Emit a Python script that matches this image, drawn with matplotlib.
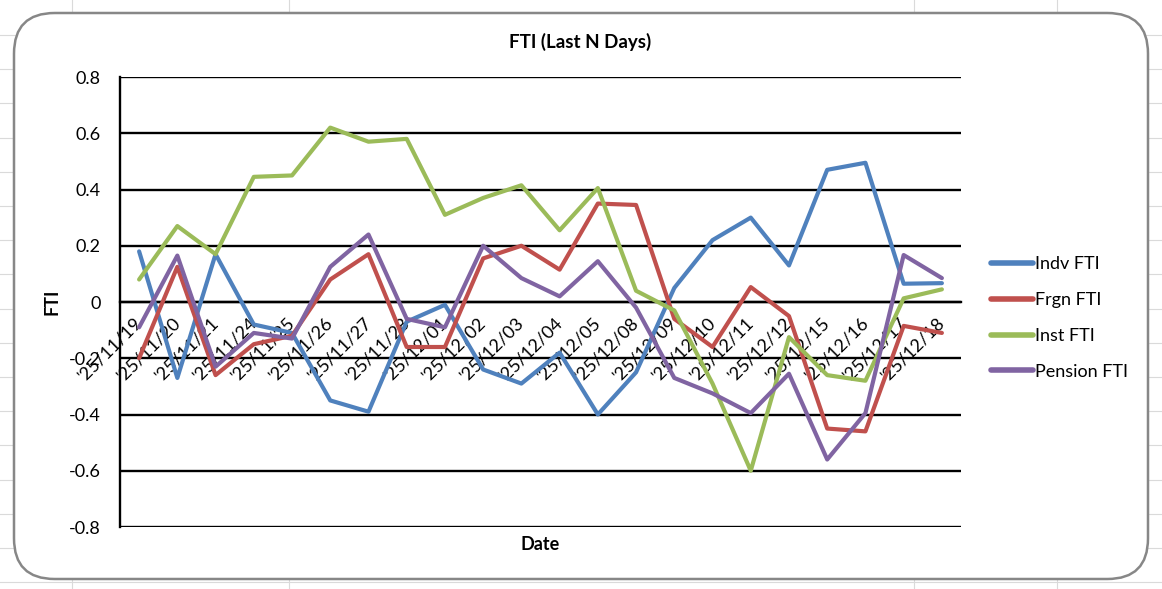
import numpy as np
import matplotlib
matplotlib.use("Agg")
from matplotlib import pyplot as plt
from matplotlib.patches import FancyBboxPatch
from matplotlib.lines import Line2D
from matplotlib.transforms import ScaledTranslation

dates = ["'25/11/19", "'25/11/20", "'25/11/21", "'25/11/24", "'25/11/25",
         "'25/11/26", "'25/11/27", "'25/11/28", "'25/12/01", "'25/12/02",
         "'25/12/03", "'25/12/04", "'25/12/05", "'25/12/08", "'25/12/09",
         "'25/12/10", "'25/12/11", "'25/12/12", "'25/12/15", "'25/12/16",
         "'25/12/17", "'25/12/18"]

indv_fti = [0.18, -0.27, 0.17, -0.08, -0.11, -0.35, -0.39, -0.07, -0.01, -0.24,
            -0.29, -0.18, -0.40, -0.25, 0.05, 0.22, 0.30, 0.13, 0.47, 0.495,
            0.065, 0.067]
frgn_fti = [-0.20, 0.125, -0.26, -0.15, -0.12, 0.08, 0.17, -0.16, -0.16, 0.155,
            0.20, 0.115, 0.35, 0.345, -0.06, -0.16, 0.053, -0.05, -0.45, -0.46,
            -0.085, -0.11]
inst_fti = [0.08, 0.27, 0.17, 0.445, 0.45, 0.62, 0.57, 0.58, 0.31, 0.37,
            0.415, 0.255, 0.405, 0.04, -0.03, -0.29, -0.60, -0.125, -0.26, -0.28,
            0.013, 0.045]
pension_fti = [-0.09, 0.165, -0.23, -0.11, -0.13, 0.125, 0.24, -0.06, -0.09, 0.20,
               0.085, 0.02, 0.145, -0.02, -0.27, -0.325, -0.395, -0.255, -0.56, -0.395,
               0.167, 0.085]

series = [("Indv FTI", indv_fti, "#4F81BD"),
          ("Frgn FTI", frgn_fti, "#C0504D"),
          ("Inst FTI", inst_fti, "#9BBB59"),
          ("Pension FTI", pension_fti, "#8064A2")]

FONT = "Lato"
W, H = 1162, 589

fig = plt.figure(figsize=(W / 100, H / 100), dpi=100)

# spreadsheet cells behind the chart
for y in np.arange(35, H, 34.2):
    fig.add_artist(Line2D([0, 1], [1 - y / H] * 2, color="#dadada", lw=0.8, zorder=0))
for x in [72, 289, 914, 1057]:
    fig.add_artist(Line2D([x / W] * 2, [0, 1], color="#dadada", lw=0.8, zorder=0))

# chart frame
frame = FancyBboxPatch((14 / W, 1 - 579 / H), (1148 - 14) / W, (579 - 13) / H,
                       boxstyle="round,pad=0,rounding_size=0.035",
                       transform=fig.transFigure, facecolor="white",
                       edgecolor="#878787", lw=1.8, zorder=1,
                       mutation_aspect=W / H)
fig.add_artist(frame)

ax = fig.add_axes([120 / W, 1 - 527 / H, (961 - 120) / W, (527 - 77) / H], zorder=2)
ax.patch.set_alpha(0)

x = np.arange(len(dates))
for name, vals, color in series:
    ax.plot(x, vals, color=color, lw=3.0, label=name, zorder=4,
            solid_joinstyle="round", solid_capstyle="round")

ax.set_xlim(-0.5, len(dates) - 0.5)
ax.set_ylim(-0.8, 0.8)
ax.set_yticks(np.arange(-0.8, 0.81, 0.2))
ax.set_yticklabels(["-0.8", "-0.6", "-0.4", "-0.2", "0", "0.2", "0.4", "0.6", "0.8"])
ax.yaxis.grid(True, color="black", lw=1.7)
ax.set_axisbelow(True)

for s in ["top", "right"]:
    ax.spines[s].set_visible(False)
ax.spines["left"].set_color("black")
ax.spines["left"].set_linewidth(1.7)
ax.spines["bottom"].set_position(("data", 0))
ax.spines["bottom"].set_color("black")
ax.spines["bottom"].set_linewidth(1.7)

ax.set_xticks(x)
ax.set_xticklabels(dates, rotation=45, ha="right", va="top",
                   fontsize=13, family=FONT)
ax.tick_params(axis="x", length=0, pad=9)
ax.tick_params(axis="y", length=0, pad=14, labelsize=13)
shift = ScaledTranslation(6 / 100, 0, fig.dpi_scale_trans)
for lab in ax.get_xticklabels():
    lab.set_transform(lab.get_transform() + shift)
for lab in ax.get_yticklabels():
    lab.set_family(FONT)

fig.text(580 / W, 1 - 42 / H, "FTI (Last N Days)", ha="center", va="center",
         fontsize=13.5, fontweight="bold", family=FONT)
fig.text(52 / W, 1 - 302 / H, "FTI", ha="center", va="center", rotation=90,
         fontsize=13, fontweight="bold", family=FONT)
fig.text(540 / W, 1 - 544 / H, "Date", ha="center", va="center",
         fontsize=13, fontweight="bold", family=FONT)

leg = ax.legend(loc="center left", bbox_to_anchor=(975 / W, 1 - 318 / H),
                bbox_transform=fig.transFigure, frameon=False,
                prop={"family": FONT, "size": 13}, handlelength=2.3,
                handletextpad=0.1, labelspacing=1.09)
for h in leg.get_lines():
    h.set_linewidth(4)

fig.savefig("out.png", dpi=100)
